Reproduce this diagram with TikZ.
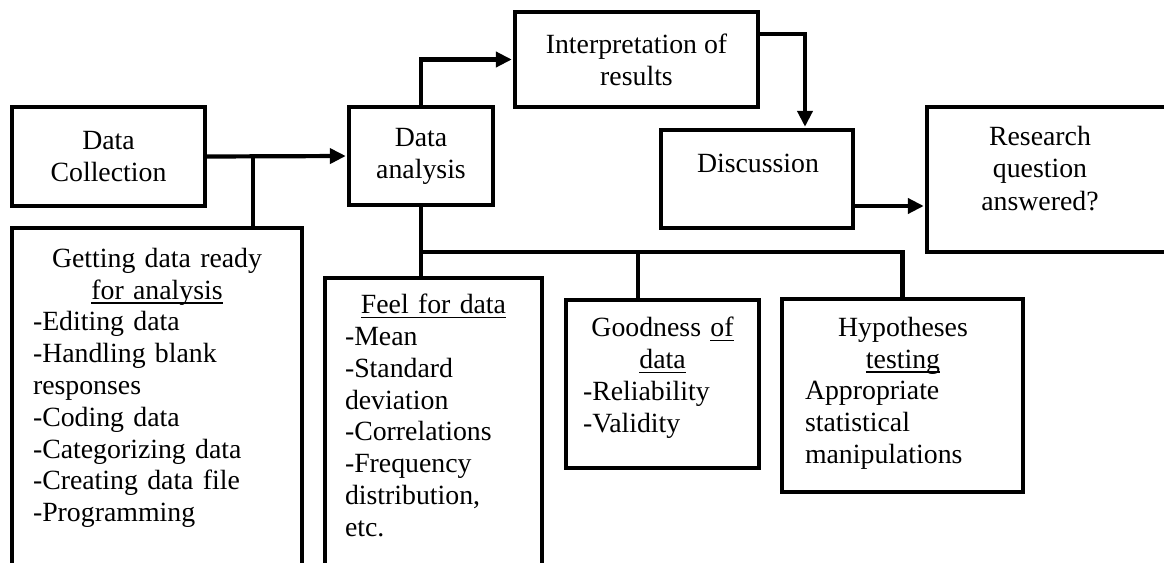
\documentclass[tikz,border=0pt]{standalone}
\usepackage{fontspec}
\setmainfont{Liberation Serif}
\usetikzlibrary{arrows.meta}
\newcommand{\myul}[1]{\leavevmode\setbox0\hbox{#1}\rlap{\rule[-4.5pt]{\wd0}{1.4pt}}\box0}
\begin{document}
\begin{tikzpicture}[x=1pt,y=-1pt,
  box/.style={draw, line width=4.4pt, inner sep=0pt},
  conn/.style={line width=4.2pt},
  arr/.style={conn, -{Triangle[length=16pt,width=15pt]}, shorten >=1pt},
  lbl/.style={font=\fontsize{27.8}{31.8}\selectfont, inner sep=0pt},
]
\useasboundingbox (0,0) rectangle (1164,562);
\fill[white] (0,0) rectangle (1164,562);
\clip (0,0) rectangle (1164,562);

% top row boxes
\node[box, lbl, align=center, minimum width=193pt, minimum height=99pt] (dc) at (108.5,156.5) {Data\\Collection};
\node[box, lbl, align=center, minimum width=144pt, minimum height=98pt] (da) at (421,156) {Data\\analysis};
\node[box, lbl, align=center, minimum width=243pt, minimum height=95pt] (interp) at (636.5,59.5) {Interpretation of\\results};
\node[box, minimum width=192pt, minimum height=98pt] (disc) at (757,179) {};
\node[lbl, anchor=base] (disct) at (758,172) {Discussion};
\node[box, minimum width=253pt, minimum height=145pt] (res) at (1053.5,179.5) {};
\node[lbl, align=center, anchor=north, font=\fontsize{27.8}{32.5}\selectfont] (rest) at (1040,125.9) {Research\\question\\answered?};

% lower boxes
\node[box, minimum width=290pt, minimum height=372pt] (gd) at (157,414) {};
\node[lbl, text width=248pt, anchor=north] (gdt) at (157,247.9)
  {\centering Getting data ready\\\myul{for analysis}\par
   \raggedright -Editing data\\-Handling blank\\responses\\-Coding data\\-Categorizing data\\-Creating data file\\-Programming\par};
\node[box, minimum width=217pt, minimum height=322pt] (feel) at (433.5,439) {};
\node[lbl, text width=177pt, anchor=north] (feelt) at (433.5,293.9)
  {\centering \myul{Feel for data}\par
   \raggedright -Mean\\-Standard\\deviation\\-Correlations\\-Frequency\\distribution,\\etc.\par};
\node[box, minimum width=193pt, minimum height=168pt] (good) at (662.5,384) {};
\node[lbl, text width=159pt, anchor=north] (goodt) at (662.5,316.9)
  {\centering Goodness \myul{of}\\\myul{data}\par
   \raggedright -Reliability\\-Validity\par};
\node[box, minimum width=241pt, minimum height=193pt] (hyp) at (902.5,395.5) {};
\node[lbl, text width=196pt, anchor=north] (hypt) at (903,316.9)
  {\centering Hypotheses\\\myul{testing}\par
   \raggedright Appropriate\\statistical\\manipulations\par};

% connectors
\coordinate (j1) at (253,156.5);
\coordinate (hy) at (0,252);
\coordinate (j3) at (638,252);
\draw[arr] (dc.east) -- (da.west);
\draw[conn] (j1) -- (j1 |- gd.north);
\draw[arr] (da.north) |- (interp.west);
\draw[arr] ([yshift=25.5pt]interp.east) -| ([xshift=48pt]disc.north);
\draw[arr] ([yshift=-27pt]disc.east) -- ([yshift=-27pt]disc.east -| res.west);
\draw[conn] (da.south) -- (da.south |- feel.north);
\coordinate (j2) at (da.south |- hy);
\draw[conn] (j2) -| (hyp.north);
\draw[conn] (j3) -- (j3 |- good.north);
\end{tikzpicture}
\end{document}
